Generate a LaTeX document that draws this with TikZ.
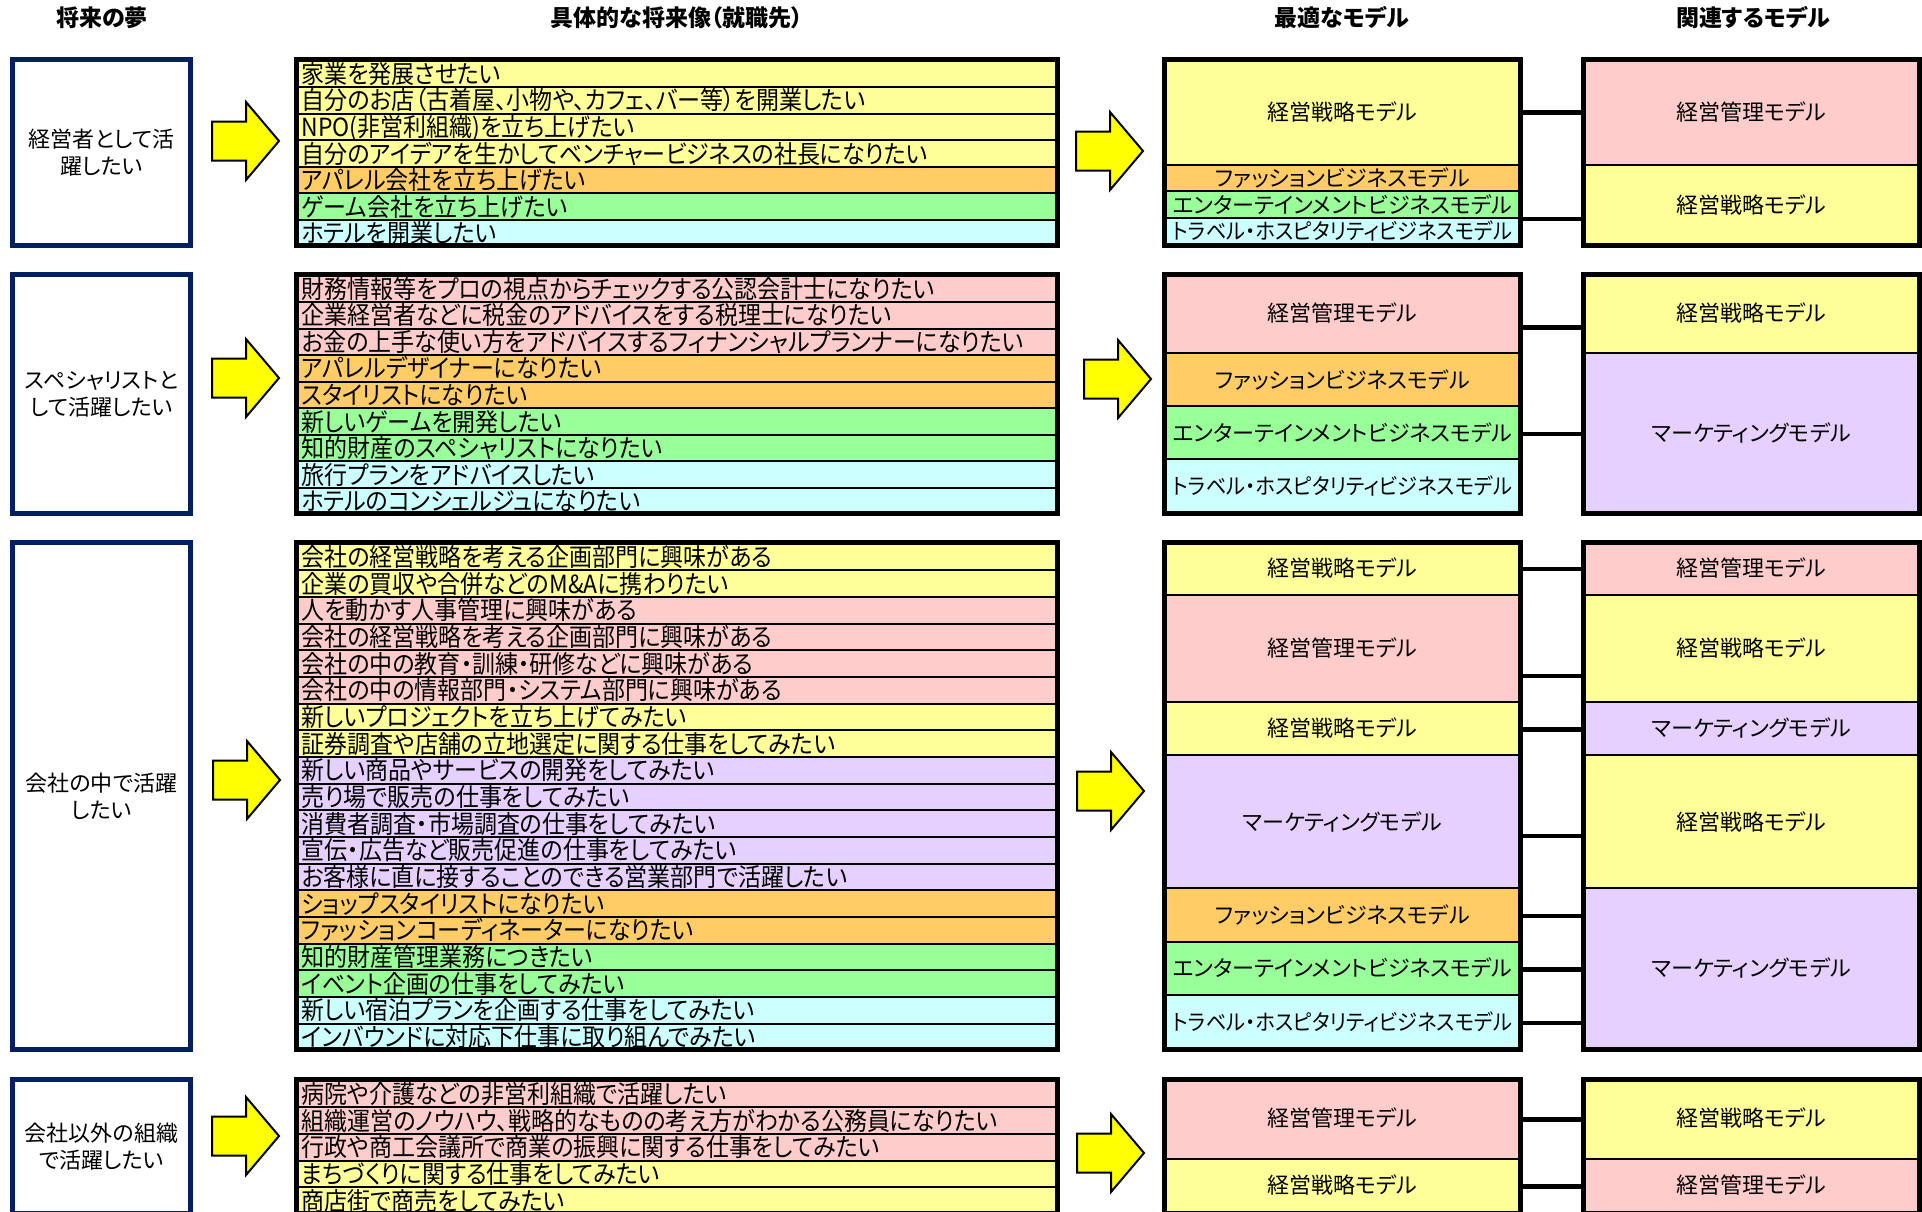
\documentclass[tikz,border=0pt]{standalone}
\usepackage{fontspec}
\newfontfamily\jpfont{Noto Sans CJK JP}[RawFeature=+palt]
\newfontfamily\jpnarrow{Noto Sans CJK JP}[RawFeature=+palt,FakeStretch=0.92]
\newfontfamily\jplist{Noto Sans CJK JP}[RawFeature=+palt,FakeStretch=0.92]
\definecolor{yel}{HTML}{FFFF99}
\definecolor{pnk}{HTML}{FFCCCC}
\definecolor{org}{HTML}{FFCC66}
\definecolor{grn}{HTML}{99FF99}
\definecolor{cyn}{HTML}{CCFFFF}
\definecolor{lav}{HTML}{E6D0FF}
\definecolor{navy}{HTML}{002060}
\definecolor{arrowyel}{HTML}{FFFF00}
\tikzset{
  hdr/.style={inner sep=0pt, font=\jpfont\bfseries\fontsize{23}{26}\selectfont, text height=20.2pt, text depth=2.8pt},
  leftbox/.style={draw=navy, line width=5pt, fill=white, inner sep=0pt, align=center, font=\jpfont\fontsize{22}{27}\selectfont},
  lcell/.style={draw=black, line width=2pt, anchor=north west, minimum width=761pt, text width=753pt, inner xsep=4pt, inner ysep=0pt, align=left, font=\jplist\fontsize{25}{27}\selectfont, text height=22pt, text depth=3pt},
  mcell/.style={draw=black, line width=2pt, inner sep=0pt, font=\jpfont\fontsize{22}{26}\selectfont, text height=19.4pt, text depth=2.6pt},
  obox/.style={draw=black, line width=5pt, inner sep=0pt},
  conn/.style={draw=black, line width=4.5pt},
  arrowfill/.style={fill=arrowyel, draw=black, line width=2pt, line join=miter},
  bigarrow/.pic={\path[arrowfill] (0,-19.5) -- (34,-19.5) -- (34,-39) -- (67,0) -- (34,39) -- (34,19.5) -- (0,19.5) -- cycle;}
}
\newcommand\travel{{\jpnarrow トラベル・ホスピタリティビジネスモデル}}
\newcommand\lrow[4]{\pgfmathsetmacro\ya{\T+#2*\H}\node[lcell, fill=#3, minimum height=\H] (#1) at (296.5,\ya) {#4};}
\newcommand\mcell[7]{\pgfmathsetmacro\ya{\T+#4*\H}\pgfmathsetmacro\yb{\T+#5*\H}\node[mcell, fill=#6, minimum width={#3-#2}, minimum height={\yb-\ya}] (#1) at ({(#2+#3)/2},{(\ya+\yb)/2 - 1}) {#7};}
\newcommand\oboxnode[3]{\node[obox, minimum width=#3, minimum height={\N*\H}] (#1) at (#2,{\T+\N*\H/2}) {};}
\newcommand\leftnode[2]{\node[leftbox, minimum width=178, minimum height={\N*\H}] (#1) at (101.5,{\T+\N*\H/2}) {#2};}
\newcommand\conn[3]{\pgfmathsetmacro\yc{\T+#3*\H}\coordinate (tmp) at (0,\yc);\draw[conn] (#1.east |- tmp) -- (#2.west |- tmp);}
\begin{document}
\begin{tikzpicture}[x=1pt,y=-1pt]
\useasboundingbox (0,0) rectangle (1922,1211);
\clip (0,0) rectangle (1922,1211);
% headers
\node[hdr] (h1) at (102,18) {将来の夢};
\node[hdr] (h2) at (677,18) {具体的な将来像（就職先）};
\node[hdr] (h3) at (1342,18) {最適なモデル};
\node[hdr] (h4) at (1753,18) {関連するモデル};
% ---------- section 1
\def\T{59.5}\def\H{26.571}\def\N{7}
\leftnode{G1}{経営者として活\\躍したい}
\pic at (212,141) {bigarrow};
\lrow{L1a}{0}{yel}{家業を発展させたい}
\lrow{L1b}{1}{yel}{自分のお店（古着屋、小物や、カフェ、バー等）を開業したい}
\lrow{L1c}{2}{yel}{NPO(非営利組織)を立ち上げたい}
\lrow{L1d}{3}{yel}{自分のアイデアを生かしてベンチャービジネスの社長になりたい}
\lrow{L1e}{4}{org}{アパレル会社を立ち上げたい}
\lrow{L1f}{5}{grn}{ゲーム会社を立ち上げたい}
\lrow{L1g}{6}{cyn}{ホテルを開業したい}
\oboxnode{L1}{677}{761}
\pic at (1076,151) {bigarrow};
\mcell{M1a}{1164.5}{1520.5}{0}{4}{yel}{経営戦略モデル}
\mcell{M1b}{1164.5}{1520.5}{4}{5}{org}{ファッションビジネスモデル}
\mcell{M1c}{1164.5}{1520.5}{5}{6}{grn}{エンターテインメントビジネスモデル}
\mcell{M1d}{1164.5}{1520.5}{6}{7}{cyn}{\travel}
\oboxnode{M1}{1342.5}{356}
\mcell{R1a}{1583.5}{1919.5}{0}{4}{pnk}{経営管理モデル}
\mcell{R1b}{1583.5}{1919.5}{4}{7}{yel}{経営戦略モデル}
\oboxnode{R1}{1751.5}{336}
\conn{M1}{R1}{2}
\conn{M1}{R1}{6}
% ---------- section 2
\def\T{274.5}\def\H{26.556}\def\N{9}
\leftnode{G2}{スペシャリストと\\して活躍したい}
\pic at (212,378) {bigarrow};
\lrow{L2a}{0}{pnk}{財務情報等をプロの視点からチェックする公認会計士になりたい}
\lrow{L2b}{1}{pnk}{企業経営者などに税金のアドバイスをする税理士になりたい}
\lrow{L2c}{2}{pnk}{お金の上手な使い方をアドバイスするフィナンシャルプランナーになりたい}
\lrow{L2d}{3}{org}{アパレルデザイナーになりたい}
\lrow{L2e}{4}{org}{スタイリストになりたい}
\lrow{L2f}{5}{grn}{新しいゲームを開発したい}
\lrow{L2g}{6}{grn}{知的財産のスペシャリストになりたい}
\lrow{L2h}{7}{cyn}{旅行プランをアドバイスしたい}
\lrow{L2i}{8}{cyn}{ホテルのコンシェルジュになりたい}
\oboxnode{L2}{677}{761}
\pic at (1084,379) {bigarrow};
\mcell{M2a}{1164.5}{1520.5}{0}{3}{pnk}{経営管理モデル}
\mcell{M2b}{1164.5}{1520.5}{3}{5}{org}{ファッションビジネスモデル}
\mcell{M2c}{1164.5}{1520.5}{5}{7}{grn}{エンターテインメントビジネスモデル}
\mcell{M2d}{1164.5}{1520.5}{7}{9}{cyn}{\travel}
\oboxnode{M2}{1342.5}{356}
\mcell{R2a}{1583.5}{1919.5}{0}{3}{yel}{経営戦略モデル}
\mcell{R2b}{1583.5}{1919.5}{3}{9}{lav}{マーケティングモデル}
\oboxnode{R2}{1751.5}{336}
\conn{M2}{R2}{2}
\conn{M2}{R2}{6}
% ---------- section 3
\def\T{542.5}\def\H{26.684}\def\N{19}
\leftnode{G3}{会社の中で活躍\\したい}
\pic at (213,780) {bigarrow};
\lrow{L3a}{0}{yel}{会社の経営戦略を考える企画部門に興味がある}
\lrow{L3b}{1}{yel}{企業の買収や合併などのM\&Aに携わりたい}
\lrow{L3c}{2}{pnk}{人を動かす人事管理に興味がある}
\lrow{L3d}{3}{pnk}{会社の経営戦略を考える企画部門に興味がある}
\lrow{L3e}{4}{pnk}{会社の中の教育・訓練・研修などに興味がある}
\lrow{L3f}{5}{pnk}{会社の中の情報部門・システム部門に興味がある}
\lrow{L3g}{6}{yel}{新しいプロジェクトを立ち上げてみたい}
\lrow{L3h}{7}{yel}{証券調査や店舗の立地選定に関する仕事をしてみたい}
\lrow{L3i}{8}{lav}{新しい商品やサービスの開発をしてみたい}
\lrow{L3j}{9}{lav}{売り場で販売の仕事をしてみたい}
\lrow{L3k}{10}{lav}{消費者調査・市場調査の仕事をしてみたい}
\lrow{L3l}{11}{lav}{宣伝・広告など販売促進の仕事をしてみたい}
\lrow{L3m}{12}{lav}{お客様に直に接することのできる営業部門で活躍したい}
\lrow{L3n}{13}{org}{ショップスタイリストになりたい}
\lrow{L3o}{14}{org}{ファッションコーディネーターになりたい}
\lrow{L3p}{15}{grn}{知的財産管理業務につきたい}
\lrow{L3q}{16}{grn}{イベント企画の仕事をしてみたい}
\lrow{L3r}{17}{cyn}{新しい宿泊プランを企画する仕事をしてみたい}
\lrow{L3s}{18}{cyn}{インバウンドに対応下仕事に取り組んでみたい}
\oboxnode{L3}{677}{761}
\pic at (1077,791) {bigarrow};
\mcell{M3a}{1164.5}{1520.5}{0}{2}{yel}{経営戦略モデル}
\mcell{M3b}{1164.5}{1520.5}{2}{6}{pnk}{経営管理モデル}
\mcell{M3c}{1164.5}{1520.5}{6}{8}{yel}{経営戦略モデル}
\mcell{M3d}{1164.5}{1520.5}{8}{13}{lav}{マーケティングモデル}
\mcell{M3e}{1164.5}{1520.5}{13}{15}{org}{ファッションビジネスモデル}
\mcell{M3f}{1164.5}{1520.5}{15}{17}{grn}{エンターテインメントビジネスモデル}
\mcell{M3g}{1164.5}{1520.5}{17}{19}{cyn}{\travel}
\oboxnode{M3}{1342.5}{356}
\mcell{R3a}{1583.5}{1919.5}{0}{2}{pnk}{経営管理モデル}
\mcell{R3b}{1583.5}{1919.5}{2}{6}{yel}{経営戦略モデル}
\mcell{R3c}{1583.5}{1919.5}{6}{8}{lav}{マーケティングモデル}
\mcell{R3d}{1583.5}{1919.5}{8}{13}{yel}{経営戦略モデル}
\mcell{R3e}{1583.5}{1919.5}{13}{19}{lav}{マーケティングモデル}
\oboxnode{R3}{1751.5}{336}
\conn{M3}{R3}{1}
\conn{M3}{R3}{5}
\conn{M3}{R3}{7}
\conn{M3}{R3}{11}
\conn{M3}{R3}{14}
\conn{M3}{R3}{16}
\conn{M3}{R3}{18}
% ---------- section 4
\def\T{1079.5}\def\H{26.7}\def\N{5}
\leftnode{G4}{会社以外の組織\\で活躍したい}
\pic at (212,1136) {bigarrow};
\lrow{L4a}{0}{pnk}{病院や介護などの非営利組織で活躍したい}
\lrow{L4b}{1}{pnk}{組織運営のノウハウ、戦略的なものの考え方がわかる公務員になりたい}
\lrow{L4c}{2}{pnk}{行政や商工会議所で商業の振興に関する仕事をしてみたい}
\lrow{L4d}{3}{yel}{まちづくりに関する仕事をしてみたい}
\lrow{L4e}{4}{yel}{商店街で商売をしてみたい}
\oboxnode{L4}{677}{761}
\pic at (1077,1153) {bigarrow};
\mcell{M4a}{1164.5}{1520.5}{0}{3}{pnk}{経営管理モデル}
\mcell{M4b}{1164.5}{1520.5}{3}{5}{yel}{経営戦略モデル}
\oboxnode{M4}{1342.5}{356}
\mcell{R4a}{1583.5}{1919.5}{0}{3}{yel}{経営戦略モデル}
\mcell{R4b}{1583.5}{1919.5}{3}{5}{pnk}{経営管理モデル}
\oboxnode{R4}{1751.5}{336}
\conn{M4}{R4}{1.5}
\conn{M4}{R4}{4}
\end{tikzpicture}
\end{document}
